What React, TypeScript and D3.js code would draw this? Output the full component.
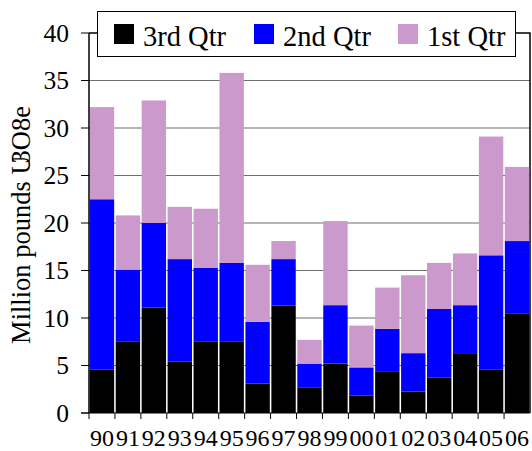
import React from 'react'
import { scaleBand, scaleLinear, stack } from 'd3'

const years = ['90', '91', '92', '93', '94', '95', '96', '97', '98', '99', '00', '01', '02', '03', '04', '05', '06']
const q3 = [4.55, 7.55, 11.1, 5.4, 7.55, 7.55, 3.1, 11.3, 2.65, 5.2, 1.85, 4.4, 2.25, 3.75, 6.3, 4.6, 10.5]
const q2 = [17.95, 7.55, 8.9, 10.8, 7.75, 8.25, 6.5, 4.9, 2.55, 6.15, 2.95, 4.45, 4.05, 7.2, 5.05, 12.0, 7.6]
const q1 = [9.7, 5.7, 12.9, 5.5, 6.2, 20.0, 6.0, 1.9, 2.5, 8.85, 4.4, 4.35, 8.2, 4.85, 5.45, 12.5, 7.8]
const seriesNames = ['3rd Qtr', '2nd Qtr', '1st Qtr']
const seriesColors = ['#000000', '#0000ff', '#cc99cc']
const yTicks = [0, 5, 10, 15, 20, 25, 30, 35, 40]

const W = 532, H = 451
const m = { top: 33, right: 2, bottom: 38, left: 89 }
const ff = '"Liberation Serif", "Times New Roman", serif'

const rows = years.map((y, i) => ({ year: y, '3rd Qtr': q3[i], '2nd Qtr': q2[i], '1st Qtr': q1[i] }))
const x = scaleBand().domain(years).range([m.left, W - m.right]).paddingInner(0.06).paddingOuter(0.03)
const y = scaleLinear().domain([0, 40]).range([H - m.bottom, m.top])
const layers = stack<any>().keys(seriesNames)(rows)
const half = x.step() * x.paddingInner() / 2

export default function App () {
  const base = H - m.bottom
  const legendX = [114, 254, 398]
  return (
    <svg width={W} height={H} style={{ position: 'absolute', left: 0, top: 0, background: '#fff', fontFamily: ff }}>
      {/* grid */}
      {yTicks.filter(t => t > 0 && t < 40).map(t => (
        <line key={t} x1={m.left} x2={W - m.right} y1={y(t)} y2={y(t)} stroke='#6e6e6e' strokeWidth={1.2} />
      ))}
      <path d={`M${m.left},${m.top}H${W - m.right}V${base}`} fill='none' stroke='#000' strokeWidth={1.5} />

      {/* bars */}
      {layers.map((layer, i) => (
        <g key={layer.key} fill={seriesColors[i]}>
          {layer.map((d: any) => (
            <rect key={d.data.year} x={x(d.data.year)} width={x.bandwidth()} y={y(d[1])} height={y(d[0]) - y(d[1])} />
          ))}
        </g>
      ))}

      {/* y axis */}
      <line x1={m.left} x2={m.left} y1={m.top} y2={base} stroke='#000' strokeWidth={1.5} />
      {yTicks.map(t => (
        <g key={t} transform={`translate(0,${y(t)})`}>
          <line x1={m.left - 8} x2={m.left} stroke='#000' />
          <text x={m.left - 20} dy='0.34em' textAnchor='end' style={{ fontFamily: ff, fontSize: 25.5 }}>{t}</text>
        </g>
      ))}

      {/* x axis */}
      <line x1={m.left - 8} x2={W - m.right} y1={base} y2={base} stroke='#000' />
      {years.map(yr => (
        <g key={yr}>
          <line x1={(x(yr) as number) - half} x2={(x(yr) as number) - half} y1={base} y2={base + 6} stroke='#000' />
          <text x={(x(yr) as number) + x.bandwidth() / 2} y={base + 33} textAnchor='middle'
            style={{ fontFamily: ff, fontSize: 24 }}>{yr}</text>
        </g>
      ))}

      {/* y label */}
      <text transform={`translate(30,${(m.top + base) / 2 + 2}) rotate(-90)`} textAnchor='middle'
        style={{ fontFamily: ff, fontSize: 26.5 }}>
        <tspan>Million pounds U</tspan><tspan dx={-8}>3O8e</tspan>
      </text>

      {/* legend */}
      <rect x={97.5} y={11.5} width={418} height={45} fill='#fff' stroke='#000' />
      {seriesNames.map((n, i) => (
        <g key={n}>
          <rect x={legendX[i]} y={24} width={20} height={20} fill={seriesColors[i]} />
          <text x={legendX[i] + 29} y={45.5} style={{ fontFamily: ff, fontSize: 28.5 }}>{n}</text>
        </g>
      ))}
    </svg>
  )
}
